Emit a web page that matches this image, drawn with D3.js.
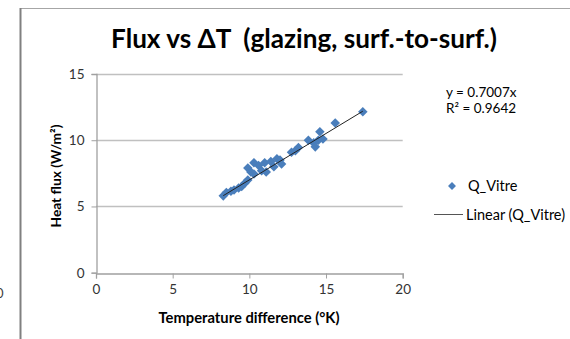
<!DOCTYPE html>
<html><head><meta charset="utf-8">
<script src="https://cdn.jsdelivr.net/npm/d3@7"></script>
<style>body{margin:0;background:#fff;}svg{display:block;font-family:Lato,"Open Sans",sans-serif;}</style>
</head><body>
<script>
const xValues = [8.3,8.5,8.8,9.0,9.3,9.5,9.7,9.9,9.9,10.1,10.3,10.3,10.6,10.8,11.0,11.1,11.4,11.6,11.8,12.0,12.1,12.75,13.0,13.2,13.85,14.2,14.3,14.5,14.6,14.8,15.6,17.4];
const yValues = [5.8,6.05,6.15,6.25,6.4,6.5,6.75,7.0,7.9,7.6,8.3,7.45,8.1,7.7,8.3,7.6,8.4,8.0,8.6,8.5,8.2,9.1,9.2,9.45,10.0,9.8,9.5,10.0,10.64,10.1,11.3,12.15];
const xTicks = [0,5,10,15,20];
const yTicks = [0,5,10,15];
const slope = 0.7007;
const title = "Flux vs \u0394T  (glazing, surf.-to-surf.)";
const xLabel = "Temperature difference (\u00b0K)";
const yLabel = "Heat flux (W/m\u00b2)";
const seriesName = "Q_Vitre";
const trendName = "Linear (Q_Vitre)";
const eqText = "y = 0.7007x";
const r2Text = "R\u00b2 = 0.9642";

const W = 570, H = 339;
const svg = d3.select("body").append("svg").attr("width", W).attr("height", H);

function fit(sel, width){
  const fs = parseFloat(sel.attr("font-size"));
  const w = sel.node().getComputedTextLength();
  sel.attr("font-size", (fs*width/w).toFixed(2));
  return sel;
}

// decorative frame remnants
svg.append("line").attr("x1",20).attr("x2",W).attr("y1",8.5).attr("y2",8.5).attr("stroke","#a6a6a6").attr("stroke-width",1);
svg.append("line").attr("x1",20.5).attr("x2",20.5).attr("y1",8).attr("y2",H).attr("stroke","#808080").attr("stroke-width",2);
svg.append("text").attr("x",-4).attr("y",298).attr("font-size",13).attr("fill","#404040").text("0");

const x = d3.scaleLinear().domain([0,20]).range([96,402.7]);
const y = d3.scaleLinear().domain([0,15]).range([272.7,74]);

// gridlines
svg.append("g").selectAll("line").data(yTicks.filter(d=>d>0)).join("line")
  .attr("x1",x(0)).attr("x2",x(20)).attr("y1",d=>Math.round(y(d))+0.5).attr("y2",d=>Math.round(y(d))+0.5)
  .attr("stroke","#c0c0c0").attr("stroke-width",1.3);

const xAxis = svg.append("g").attr("transform",`translate(0,${Math.round(y(0))+0.5})`)
  .call(d3.axisBottom(x).tickValues(xTicks).tickSize(5).tickPadding(6));
const yAxis = svg.append("g").attr("transform",`translate(${Math.round(x(0))+0.5},0)`)
  .call(d3.axisLeft(y).tickValues(yTicks).tickSize(5).tickPadding(7));
[xAxis,yAxis].forEach(g=>{
  g.select(".domain").attr("stroke","#a0a0a0").attr("stroke-width",1.3);
  g.selectAll(".tick line").attr("stroke","#a0a0a0");
  g.selectAll(".tick text").attr("font-size",13.5).attr("fill","#333").attr("font-family","Lato,sans-serif");
});

// points
const pts = xValues.map((v,i)=>({x:v,y:yValues[i]}));
const diamond = d3.symbol().type(d3.symbolDiamond2).size(58);
svg.append("g").selectAll("path").data(pts).join("path")
  .attr("d",diamond).attr("transform",d=>`translate(${x(d.x)},${y(d.y)})`)
  .attr("fill","#4a7ebb");

// trendline
const xmin = d3.min(xValues), xmax = d3.max(xValues);
svg.append("line").attr("x1",x(xmin)).attr("y1",y(slope*xmin)).attr("x2",x(xmax)).attr("y2",y(slope*xmax))
  .attr("stroke","#222").attr("stroke-width",1);

// title & labels
fit(svg.append("text").attr("x",304).attr("y",48).attr("text-anchor","middle").attr("font-size",21).attr("font-weight","bold")
  .attr("fill","#000").style("white-space","pre").text(title), 386);
fit(svg.append("text").attr("x",249).attr("y",323).attr("text-anchor","middle").attr("font-size",13).attr("font-weight","bold").text(xLabel), 181);
fit(svg.append("text").attr("transform","translate(61,176) rotate(-90)").attr("text-anchor","middle").attr("font-size",13).attr("font-weight","bold").text(yLabel), 103);

// equation
svg.append("text").attr("x",446).attr("y",97).attr("font-size",13.5).attr("fill","#000").text(eqText);
svg.append("text").attr("x",446).attr("y",113).attr("font-size",13.5).attr("fill","#000").text(r2Text);

// legend
svg.append("path").attr("d",d3.symbol().type(d3.symbolDiamond2).size(40)).attr("transform","translate(452,186)").attr("fill","#4a7ebb");
svg.append("text").attr("x",468).attr("y",191).attr("font-size",14.5).text(seriesName);
svg.append("line").attr("x1",434).attr("x2",463).attr("y1",214.5).attr("y2",214.5).attr("stroke","#555").attr("stroke-width",1);
svg.append("text").attr("x",466).attr("y",219.5).attr("font-size",14.5).text(trendName);
</script>
</body></html>
